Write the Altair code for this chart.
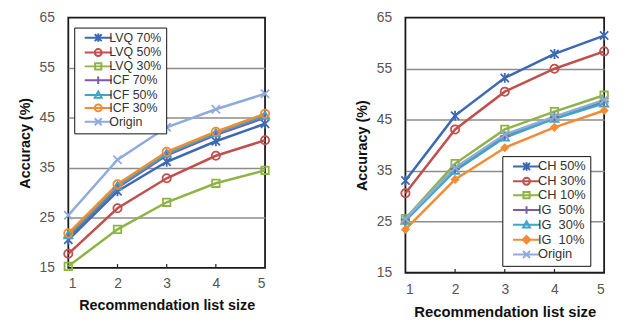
import altair as alt
import pandas as pd

x_vals = [1, 2, 3, 4, 5]
y_ticks = [15, 25, 35, 45, 55, 65]

left_series = ["LVQ 70%", "LVQ 50%", "LVQ 30%", "ICF 70%", "ICF 50%", "ICF 30%", "Origin"]
lvq70 = [20.6, 30.3, 36.2, 40.3, 43.8]
lvq50 = [17.8, 26.9, 32.9, 37.4, 40.5]
lvq30 = [15.3, 22.7, 28.1, 31.9, 34.5]
icf70 = [21.2, 31.0, 37.5, 41.6, 45.0]
icf50 = [21.5, 31.3, 37.8, 41.9, 45.4]
icf30 = [21.9, 31.7, 38.2, 42.2, 45.8]
origin_l = [25.5, 36.6, 43.1, 46.7, 49.8]

right_series = ["CH 50%", "CH 30%", "CH 10%", "IG\u00a0\u00a050%", "IG\u00a0\u00a030%", "IG\u00a0\u00a010%", "Origin"]
ch50 = [33.1, 45.8, 53.2, 57.9, 61.5]
ch30 = [30.6, 43.1, 50.5, 55.0, 58.4]
ch10 = [25.6, 36.4, 43.1, 46.6, 49.8]
ig50 = [25.4, 35.3, 41.8, 45.5, 48.6]
ig30 = [25.2, 35.0, 41.5, 45.2, 48.2]
ig10 = [23.5, 33.3, 39.5, 43.5, 46.8]
origin_r = [25.6, 35.6, 42.1, 45.6, 48.9]

colors = ["#3B69B3", "#C0504D", "#8DB444", "#7B5CA8", "#3FA6C2", "#F28C34", "#8FAADC"]

STAR = "M-1,-1L1,1M-1,1L1,-1M0,-1.2L0,1.2"
CIRCLE = "M-1,0A1,1,0,1,1,1,0A1,1,0,1,1,-1,0Z"
SQUARE = "M-0.9,-0.9L0.9,-0.9L0.9,0.9L-0.9,0.9Z"
PLUS = "M-1.1,0L1.1,0M0,-1.1L0,1.1"
TRI = "M0,-1L1,0.75L-1,0.75Z"
DIAMOND = "M0,-1.1L1.1,0L0,1.1L-1.1,0Z"
DIAMOND_FILL = "M0,-1.1L1.1,0L0,1.1L-1.1,0ZM0,-0.7L0.7,0L0,0.7L-0.7,0ZM0,-0.35L0.35,0L0,0.35L-0.35,0Z"
XMARK = "M-1,-1L1,1M-1,1L1,-1"
LINE = "M-3.9,0L3.9,0"

left_shapes = [STAR, CIRCLE, SQUARE, PLUS, TRI, CIRCLE, XMARK]
right_shapes = [STAR, CIRCLE, SQUARE, PLUS, TRI, DIAMOND, XMARK]
right_legend_shapes = [LINE + s for s in [STAR, CIRCLE, SQUARE, PLUS, TRI, DIAMOND_FILL, XMARK]]
left_legend_shapes = [LINE + s for s in left_shapes]

FONT = "Liberation Sans"


def panel(series, values, shapes, legend_shapes, filled_name, width, height,
          legend_x, legend_y, legend_font, row_pad, label_pad, xtitle_size):
    rows = []
    for s, vals in zip(series, values):
        for x, v in zip(x_vals, vals):
            rows.append({"series": s, "x": x, "y": v})
    df = pd.DataFrame(rows)
    base = alt.Chart(df)
    xenc = alt.X("x:Q", scale=alt.Scale(domain=[1, 5], nice=False, zero=False),
                 axis=alt.Axis(values=x_vals, title="Recommendation list size", grid=False,
                               ticks=False, domain=False, labelPadding=label_pad, titlePadding=8,
                               labelFontSize=14, titleFontSize=xtitle_size, format="d"))
    yenc = alt.Y("y:Q", scale=alt.Scale(domain=[15, 65], nice=False, zero=False),
                 axis=alt.Axis(values=y_ticks, title="Accuracy (%)", grid=True,
                               gridOpacity=alt.ExprRef("datum.value == 15 || datum.value == 65 ? 0 : 1"),
                               ticks=False, domain=False, labelPadding=14, titlePadding=7,
                               labelFontSize=14, titleFontSize=14.5))
    cscale = alt.Scale(domain=series, range=colors)
    lines = base.mark_line(strokeWidth=2.5).encode(
        x=xenc, y=yenc, color=alt.Color("series:N", scale=cscale, legend=None))
    pts_open = base.mark_point(filled=False, strokeWidth=1.8, size=70, opacity=1).encode(
        x="x:Q", y="y:Q",
        color=alt.Color("series:N", scale=cscale, legend=None),
        shape=alt.Shape("series:N", scale=alt.Scale(domain=series, range=shapes), legend=None),
    ).transform_filter(alt.datum.series != filled_name)
    pts_fill = base.mark_point(filled=True, size=70, opacity=1).encode(
        x="x:Q", y="y:Q",
        color=alt.Color("series:N", scale=cscale, legend=None),
        shape=alt.Shape("series:N", scale=alt.Scale(domain=series, range=shapes), legend=None),
    ).transform_filter(alt.datum.series == filled_name)
    ticks = alt.Chart(pd.DataFrame({"x": x_vals[1:4]})).mark_rule(color="#222", strokeWidth=1.2).encode(
        x="x:Q", y=alt.datum(15), y2=alt.datum(15.75))
    leg = alt.Legend(orient="none", legendX=legend_x, legendY=legend_y, title=None,
                     strokeColor="#111", fillColor="white", padding=4,
                     labelFont=FONT, labelFontSize=legend_font, labelColor="#333",
                     symbolSize=49, symbolStrokeWidth=2, labelOffset=5, rowPadding=row_pad,
                     symbolOffset=14)
    legend_layer = base.mark_point(filled=False, strokeWidth=2, size=49, opacity=1).encode(
        x="x:Q", y="y:Q",
        color=alt.Color("series:N", scale=cscale, legend=leg),
        shape=alt.Shape("series:N", scale=alt.Scale(domain=series, range=legend_shapes), legend=leg),
    ).transform_filter("false")
    layer = alt.layer(lines, pts_open, pts_fill, ticks, legend_layer).resolve_scale(
        color="independent", shape="independent").properties(width=width, height=height)
    return layer


left = panel(left_series, [lvq70, lvq50, lvq30, icf70, icf50, icf30, origin_l],
             left_shapes, left_legend_shapes, "none", 199, 253, 6, 10, 12.5, -2.5, 9, 14.5)
right = panel(right_series, [ch50, ch30, ch10, ig50, ig30, ig10, origin_r],
              right_shapes, right_legend_shapes, "IG\u00a0\u00a010%", 201, 258, 98, 140, 13, -1, 10, 15)

chart = alt.hconcat(left, right, spacing=79).properties(
    padding={"left": 8, "top": 0, "right": 2, "bottom": 0}
).configure_view(stroke="#1a1a1a", strokeWidth=1.8).configure_axis(
    labelFont=FONT, titleFont=FONT, labelColor="#555", titleColor="#111", titleFontWeight="bold",
    gridColor="#8c8c8c", gridWidth=1.5
)

chart.save("out.html", embed_options={"renderer": "svg", "actions": False})
